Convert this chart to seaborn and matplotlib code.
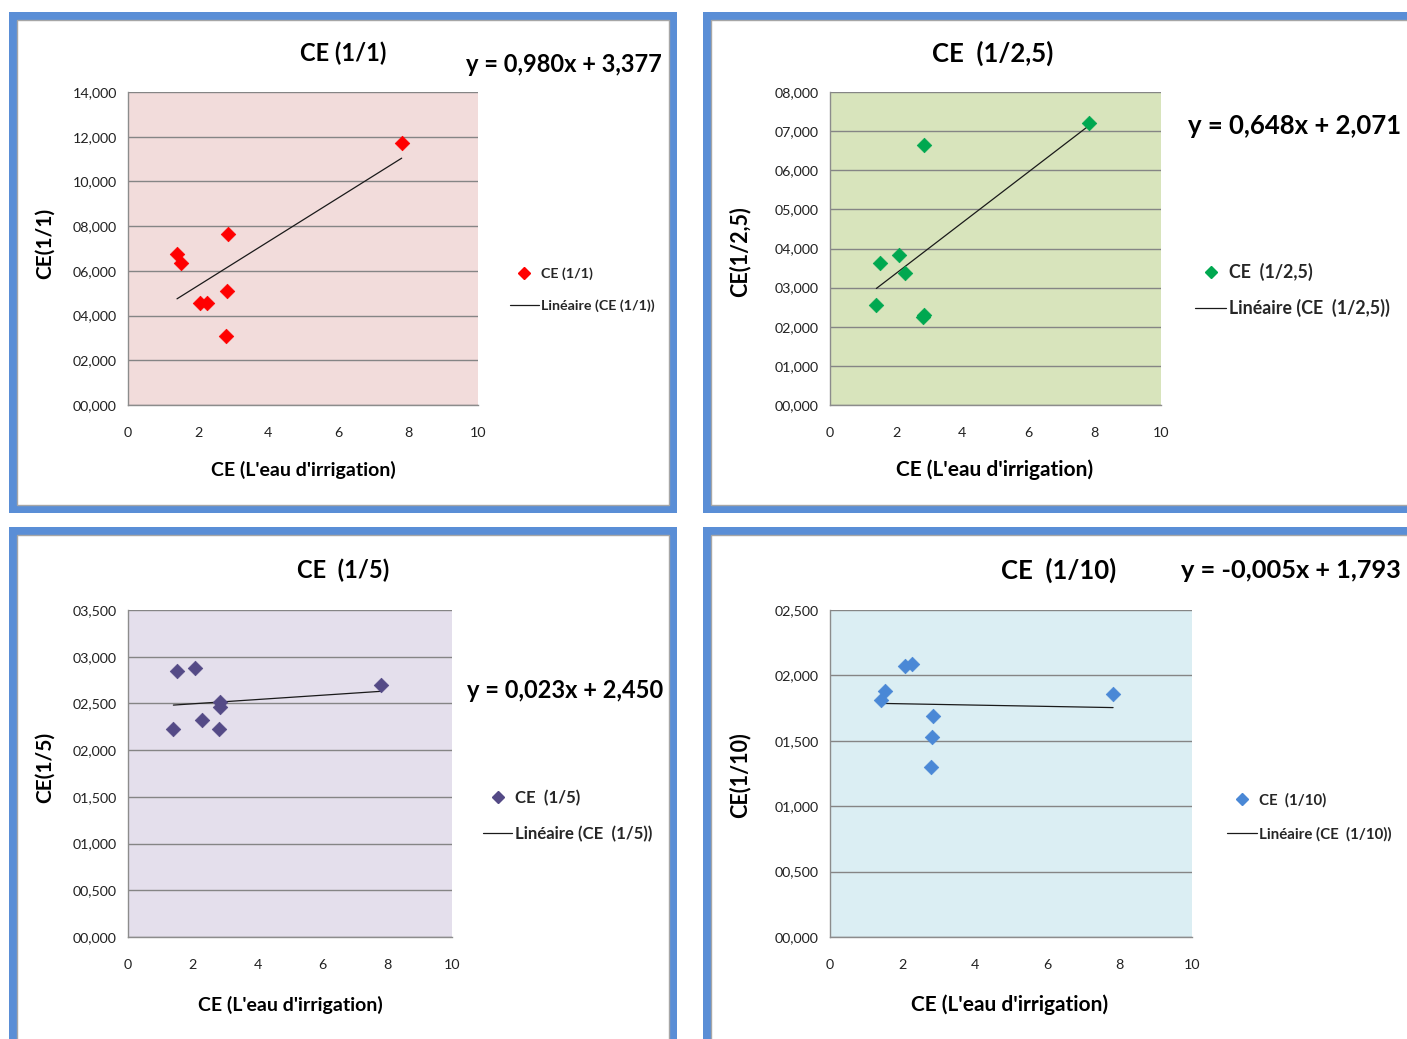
import matplotlib
matplotlib.use("Agg")
import matplotlib.pyplot as plt
from matplotlib.patches import Rectangle
from matplotlib.lines import Line2D
import seaborn as sns
import pandas as pd

# ---------------- data ----------------
x_irrigation = [1.40, 1.51, 2.07, 2.27, 2.80, 2.83, 2.85, 7.82]
ce_1_1 = [6.75, 6.35, 4.58, 4.58, 3.10, 5.10, 7.65, 11.73]
ce_1_2_5 = [2.55, 3.64, 3.83, 3.37, 2.24, 6.64, 2.30, 7.20]
ce_1_5 = [2.23, 2.85, 2.88, 2.32, 2.23, 2.52, 2.46, 2.70]
ce_1_10 = [1.81, 1.88, 2.07, 2.09, 1.30, 1.53, 1.69, 1.86]

titles = ["CE (1/1)", "CE  (1/2,5)", "CE  (1/5)", "CE  (1/10)"]
ylabels = ["CE(1/1)", "CE(1/2,5)", "CE(1/5)", "CE(1/10)"]
legend_labels = ["CE (1/1)", "CE  (1/2,5)", "CE  (1/5)", "CE  (1/10)"]
trend_labels = ["Linéaire (CE (1/1))", "Linéaire (CE  (1/2,5))",
                "Linéaire (CE  (1/5))", "Linéaire (CE  (1/10))"]
equations = ["y = 0,980x + 3,377", "y = 0,648x + 2,071",
             "y = 0,023x + 2,450", "y = -0,005x + 1,793"]
slopes = [0.980, 0.648, 0.023, -0.005]
intercepts = [3.377, 2.071, 2.450, 1.793]
y_max = [14, 8, 3.5, 2.5]
y_step = [2, 1, 0.5, 0.5]
x_ticks = [0, 2, 4, 6, 8, 10]
xlabel = "CE (L'eau d'irrigation)"

series = [ce_1_1, ce_1_2_5, ce_1_5, ce_1_10]

# ---------------- style ----------------
sns.set_style("white")
plt.rcParams['font.family'] = ['Lato', 'DejaVu Sans']

W, H = 1407, 1039
fig = plt.figure(figsize=(W / 100, H / 100), dpi=100)
fig.patch.set_facecolor("white")

def fx(px):
    return px / W

def fy(py):
    return 1 - py / H

BLUE = "#5A8ED6"
frames = [(9, 12, 677, 513), (703, 12, 1430, 513), (9, 527, 677, 1060), (703, 527, 1430, 1060)]
for (x0, y0, x1, y1) in frames:
    fig.patches.append(Rectangle((fx(x0), fy(y1)), fx(x1 - x0), (y1 - y0) / H,
                                 transform=fig.transFigure, facecolor=BLUE,
                                 edgecolor="none", zorder=-3))
    fig.patches.append(Rectangle((fx(x0 + 8), fy(y1 - 8)), fx(x1 - x0 - 16), (y1 - y0 - 16) / H,
                                 transform=fig.transFigure, facecolor="white",
                                 edgecolor="#A6A6A6", linewidth=1.0, zorder=-2))

areas = [(128, 92, 478, 405), (830, 92, 1161, 405), (128, 610, 452, 937), (830, 610, 1192, 937)]
bg_colors = ["#F2DCDB", "#D8E4BC", "#E4DFEC", "#DBEEF3"]
pt_colors = ["#FF0000", "#00A850", "#544A86", "#4A88D6"]

title_pos = [(343, 53), (993, 53), (343, 570), (1059, 570)]
title_fs = [17, 18.5, 17, 18.5]
eq_pos = [(564, 65), (1295, 126), (565, 690), (1291, 570)]
eq_fs = [17, 18.5, 17, 18.3]
xlabel_pos = [(303, 470), (995, 470), (290, 1005), (1010, 1005)]
xlabel_fs = [14, 15, 14, 15]
ylabel_pos = [(45, 243), (740, 252), (45, 767), (740, 775)]
ylabel_fs = [15, 15.5, 15, 15.5]
legend_pos = [(510, 290), (1195, 290), (483, 816), (1227, 817)]
legend_fs = [10.3, 12.8, 12.1, 10.8]
legend_sp = [1.35, 1.0, 1.15, 1.3]
handle_len = [2.0, 1.75, 1.75, 2.0]

for i in range(4):
    x0, y0, x1, y1 = areas[i]
    ax = fig.add_axes([fx(x0), fy(y1), (x1 - x0) / W, (y1 - y0) / H])
    ax.set_facecolor(bg_colors[i])
    df = pd.DataFrame({"x": x_irrigation, "y": series[i]})
    sns.scatterplot(data=df, x="x", y="y", ax=ax, marker="D", s=55,
                    color=pt_colors[i], edgecolor=pt_colors[i], linewidth=0.5, zorder=4)
    xs = [min(x_irrigation), max(x_irrigation)]
    trend = pd.DataFrame({"x": xs, "y": [slopes[i] * v + intercepts[i] for v in xs]})
    sns.lineplot(data=trend, x="x", y="y", ax=ax, color="#1A1A1A", linewidth=0.9, zorder=3)

    ax.set_xlim(0, 10)
    ax.set_ylim(0, y_max[i])
    n = int(round(y_max[i] / y_step[i]))
    yt = [k * y_step[i] for k in range(n + 1)]
    ax.set_yticks(yt)
    ax.set_yticklabels([("%06.3f" % v).replace(".", ",") for v in yt])
    ax.set_xticks(x_ticks)
    ax.set_xticklabels([str(v) for v in x_ticks])
    ax.grid(axis="y", color="#858585", linewidth=1.0)
    ax.grid(axis="x", visible=False)
    ax.set_axisbelow(True)
    for s in ["top", "right"]:
        ax.spines[s].set_visible(False)
    for s in ["left", "bottom"]:
        ax.spines[s].set_color("#8C8C8C")
        ax.spines[s].set_linewidth(1.0)
    ax.tick_params(axis="both", direction="out", length=5, width=1, color="#8C8C8C",
                   labelsize=10.3, labelcolor="#222222")
    ax.tick_params(axis="y", pad=3)
    ax.tick_params(axis="x", pad=11)
    ax.set_xlabel("")
    ax.set_ylabel("")

    fig.text(fx(title_pos[i][0]), fy(title_pos[i][1]), titles[i], ha="center", va="center",
             fontsize=title_fs[i], fontweight="bold", color="black")
    fig.text(fx(eq_pos[i][0]), fy(eq_pos[i][1]), equations[i], ha="center", va="center",
             fontsize=eq_fs[i], fontweight="bold", color="black")
    fig.text(fx(xlabel_pos[i][0]), fy(xlabel_pos[i][1]), xlabel, ha="center", va="center",
             fontsize=xlabel_fs[i], fontweight="bold", color="black")
    fig.text(fx(ylabel_pos[i][0]), fy(ylabel_pos[i][1]), ylabels[i], ha="center", va="center",
             rotation=90, fontsize=ylabel_fs[i], fontweight="bold", color="black")

    handles = [Line2D([], [], marker="D", linestyle="none", color=pt_colors[i], markersize=6),
               Line2D([], [], color="#1A1A1A", linewidth=0.9)]
    fig.legend(handles, [legend_labels[i], trend_labels[i]], loc="center left",
               bbox_to_anchor=(fx(legend_pos[i][0]), fy(legend_pos[i][1])),
               bbox_transform=fig.transFigure, frameon=False,
               prop={"size": legend_fs[i], "weight": "bold"},
               handlelength=handle_len[i], handletextpad=0.15,
               labelspacing=legend_sp[i], borderaxespad=0, borderpad=0)

fig.savefig("out.png", dpi=100, facecolor="white")
